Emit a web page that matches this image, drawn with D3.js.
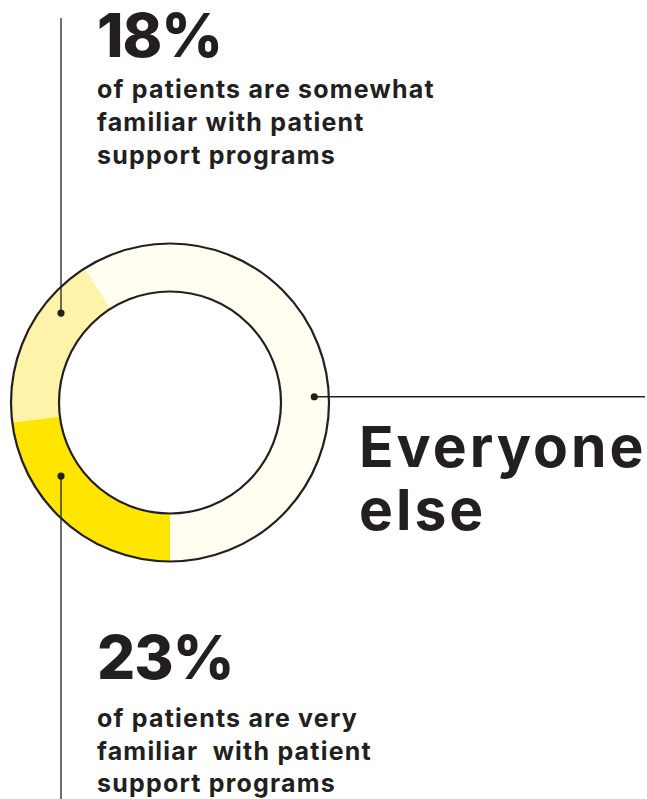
<!DOCTYPE html>
<html>
<head>
<meta charset="utf-8">
<script src="https://cdn.jsdelivr.net/npm/d3@7"></script>
<style>
  body { margin: 0; background: #fff; }
  svg { display: block; }
  text { fill: #231f20; }
</style>
</head>
<body>
<div id="chart"></div>
<script>
// data
var categories = ["Very familiar", "Somewhat familiar", "Everyone else"];
var values = [23, 18, 59];
var valueLabels = ["23%", "18%", ""];
var descriptions = [
    ["of patients are very", "familiar  with patient", "support programs"],
    ["of patients are somewhat", "familiar with patient", "support programs"],
    ["Everyone", "else"]
];
var colors = ["#ffe500", "#fff3aa", "#fffef0"];

var width = 647,
    height = 799,
    cx = 170,
    cy = 402.5,
    outerR = 159,
    innerR = 111,
    ink = "#231f20";

var svg = d3.select("#chart").append("svg")
    .attr("width", width)
    .attr("height", height);

var pie = d3.pie()
    .sort(null)
    .startAngle(Math.PI)
    .endAngle(3 * Math.PI);

var arc = d3.arc()
    .innerRadius(innerR)
    .outerRadius(outerR);

var arcs = pie(values);

var g = svg.append("g").attr("transform", "translate(" + cx + "," + cy + ")");

g.selectAll(".slice")
    .data(arcs)
    .enter().append("path")
    .attr("class", "slice")
    .attr("d", arc)
    .attr("fill", function(d, i) { return colors[i]; });

// ring outlines
g.selectAll(".ring")
    .data([outerR, innerR])
    .enter().append("circle")
    .attr("r", function(d) { return d; })
    .attr("fill", "none")
    .attr("stroke", ink)
    .attr("stroke-width", 2.2);

// leader anchors: radius of the dot, plus where the line goes
var leaderX = 61;
var anchors = [
    { r: 131.5, side: "down" },
    { r: 141, side: "up" },
    { r: 144.4, side: "right" }
];

function dotPos(i) {
    var a = anchors[i];
    if (a.side === "right") {
        // just above horizontal, inside the big slice
        var p = d3.pointRadial(Math.PI / 2 - 0.04, a.r);
        return [cx + p[0], cy + p[1]];
    }
    var dx = leaderX - cx,
        dy = Math.sqrt(a.r * a.r - dx * dx);
    return [leaderX, a.side === "up" ? cy - dy : cy + dy];
}

var leaders = svg.append("g");
arcs.forEach(function(d, i) {
    var p = dotPos(i), end;
    if (anchors[i].side === "up") end = [p[0], 18];
    else if (anchors[i].side === "down") end = [p[0], height];
    else end = [645, p[1]];
    leaders.append("line")
        .attr("x1", p[0]).attr("y1", p[1])
        .attr("x2", end[0]).attr("y2", end[1])
        .attr("stroke", ink)
        .attr("stroke-width", 1.3);
    leaders.append("circle")
        .attr("cx", p[0]).attr("cy", p[1])
        .attr("r", 3.6)
        .attr("fill", ink);
});

// labels
var font = "Inter, 'DejaVu Sans', sans-serif";

function block(i, x, bigY, firstY, lineH) {
    var t = svg.append("g");
    t.append("text")
        .attr("x", x).attr("y", bigY)
        .attr("font-family", font)
        .attr("font-weight", 800)
        .attr("font-size", 60)
        .attr("letter-spacing", -1)
        .text(valueLabels[i]);
    t.selectAll(".desc")
        .data(descriptions[i])
        .enter().append("text")
        .attr("x", x)
        .attr("y", function(d, j) { return firstY + j * lineH; })
        .attr("font-family", font)
        .attr("font-weight", 700)
        .attr("font-size", 25)
        .attr("letter-spacing", 1.2)
        .style("white-space", "pre")
        .text(function(d) { return d; });
}

block(1, 97, 57, 98, 33);
block(0, 97, 679, 727, 32.5);

svg.selectAll(".else")
    .data(descriptions[2])
    .enter().append("text")
    .attr("x", 359)
    .attr("y", function(d, j) { return 467 + j * 63; })
    .attr("font-family", font)
    .attr("font-weight", 700)
    .attr("font-size", 57)
    .attr("letter-spacing", 3)
    .text(function(d) { return d; });
</script>
</body>
</html>
